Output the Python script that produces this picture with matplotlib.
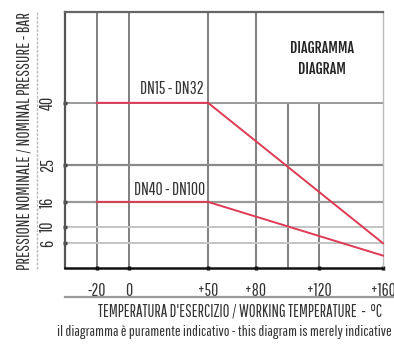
import matplotlib
matplotlib.use("Agg")
import matplotlib.pyplot as plt
from matplotlib.lines import Line2D

# ---- data ----
dn_small_temp = [-20, 50, 160]
dn_small_press = [40, 40, 6]
dn_large_temp = [-20, 50, 160]
dn_large_press = [16, 16, 3]
x_ticks = [-20, 0, 50, 80, 120, 160]
x_tick_labels = ["-20", "0", "+50", "+80", "+120", "+160"]
y_ticks = [40, 25, 16, 10, 6]
y_tick_labels = ["40", "25", "16", "10", "6"]
full_vgrid = [-20, 0, 50, 80]
low_vgrid = [100, 120]
series_labels = ["DN15 - DN32", "DN40 - DN100"]

FONT = ["Pathway Gothic One", "DejaVu Sans"]
BOLD = ["Fjalla One", "DejaVu Sans"]
RED = "#de3a55"
TXT = "#333333"

fig = plt.figure(figsize=(3.94, 3.45), dpi=100)
W, H = 394, 345
ax = fig.add_axes([65 / W, 1 - 268 / H, 318 / W, 256 / H])
ax.set_xlim(-40, 160)
ax.set_ylim(0, 62)

# grid lines
for x in full_vgrid:
    ax.axvline(x, color="#6a6a6a", lw=1.2, zorder=1)
for x in low_vgrid:
    ax.plot([x, x], [0, 40], color="#6a6a6a", lw=1.2, zorder=1)
ax.axhline(40, color="#9a9a9a", lw=1.4, zorder=1)
ax.axhline(25, color="#8a8a8a", lw=1.6, zorder=1)
ax.axhline(16, color="#999999", lw=1.6, zorder=1)
ax.axhline(10, color="#c4c4c4", lw=1.4, zorder=1)
ax.axhline(6, color="#c4c4c4", lw=1.4, zorder=1)

# series
ax.plot(dn_small_temp, dn_small_press, color=RED, lw=1.4, zorder=3, clip_on=False)
ax.plot(dn_large_temp, dn_large_press, color=RED, lw=1.4, zorder=3, clip_on=False)

ax.text(27, 43.3, series_labels[0], family=FONT, fontsize=12.5, color=TXT, ha="center", va="center")
ax.text(26, 18.9, series_labels[1], family=FONT, fontsize=12.5, color=TXT, ha="center", va="center")
ax.text(121.5, 53.2, "DIAGRAMMA", family=BOLD, fontsize=10, color="#222222", ha="center", va="center")
ax.text(121.5, 48.2, "DIAGRAM", family=BOLD, fontsize=10, color="#222222", ha="center", va="center")

# spines
for s, c, w in [("left", "#555555", 1.6), ("top", "#666666", 1.6), ("bottom", "#111111", 1.8), ("right", "#bbbbbb", 1.0)]:
    ax.spines[s].set_color(c)
    ax.spines[s].set_linewidth(w)

ax.set_xticks(x_ticks)
ax.set_xticklabels(x_tick_labels, family=FONT, fontsize=12.5, color=TXT)
ax.set_yticks(y_ticks)
ax.set_yticklabels(y_tick_labels, family=FONT, fontsize=13, color=TXT, rotation=90, va="center")
ax.tick_params(axis="x", direction="inout", length=3, width=2.5, color="#111111", pad=9)
ax.tick_params(axis="y", direction="inout", length=3, width=2.5, color="#444444", pad=5)

# outer decorations
fig.add_artist(Line2D([37 / W, 37 / W], [1 - 12 / H, 1 - 270 / H], color="#bbbbbb", lw=1.0, ls=(0, (2, 1))))
fig.add_artist(Line2D([65 / W, 1.0], [1 - 297 / H, 1 - 297 / H], color="#9a9a9a", lw=1.6))
fig.text(25 / W, 1 - 141 / H, "PRESSIONE NOMINALE / NOMINAL PRESSURE - BAR", family=FONT, fontsize=12.5,
         color=TXT, rotation=90, ha="center", va="center")
fig.text(98 / W, 1 - 312 / H, "TEMPERATURA D'ESERCIZIO / WORKING TEMPERATURE  -  °C", family=FONT, fontsize=12,
         color=TXT, ha="left", va="center")
fig.text(57 / W, 1 - 332 / H, "il diagramma è puramente indicativo - this diagram is merely indicative", family=FONT,
         fontsize=11, color=TXT, ha="left", va="center")

fig.savefig("out.png", dpi=100, facecolor="white")
